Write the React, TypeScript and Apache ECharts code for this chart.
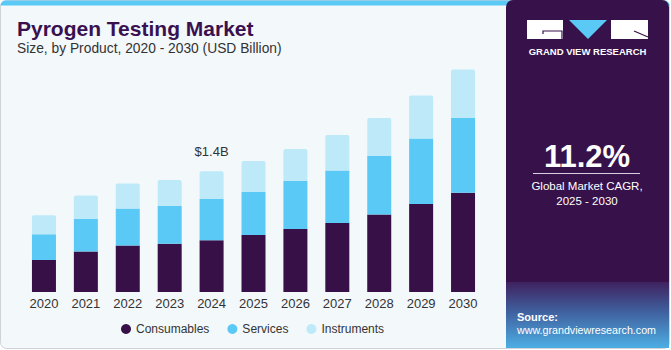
import React, { useEffect, useRef } from "react";
import * as echarts from "echarts";

const years = ["2020", "2021", "2022", "2023", "2024", "2025", "2026", "2027", "2028", "2029", "2030"];
const consumables = [0.37, 0.47, 0.54, 0.56, 0.6, 0.66, 0.73, 0.8, 0.9, 1.02, 1.15];
const services = [0.3, 0.38, 0.43, 0.44, 0.48, 0.5, 0.56, 0.61, 0.68, 0.76, 0.87];
const instruments = [0.22, 0.27, 0.29, 0.3, 0.32, 0.36, 0.37, 0.41, 0.44, 0.5, 0.56];
const seriesNames = ["Consumables", "Services", "Instruments"];
const colors = ["#381048", "#5bc9f5", "#bde9f9"];
const labelIndex = 4;
const labelText = "$1.4B";

export default function App() {
  const ref = useRef<HTMLDivElement>(null);
  useEffect(() => {
    if (!ref.current) return;
    const chart = echarts.init(ref.current, undefined, { renderer: "svg" });
    const font = "Arial, 'Liberation Sans', sans-serif";
    const data = [consumables, services, instruments];
    chart.setOption({
      animation: false,
      textStyle: { fontFamily: font },
      grid: { left: 23, right: 187, top: 33.4, bottom: 58, containLabel: false },
      xAxis: {
        type: "category",
        data: years,
        axisLine: { show: false },
        axisTick: { show: false },
        axisLabel: { color: "#333", fontSize: 13, margin: 5, fontFamily: font },
      },
      yAxis: { type: "value", min: 0, max: 3, show: false, splitLine: { show: false } },
      legend: {
        left: 116,
        top: 318,
        itemWidth: 10,
        itemHeight: 10,
        itemGap: 18,
        icon: "circle",
        textStyle: { color: "#333", fontSize: 12, fontFamily: font },
        data: seriesNames,
      },
      series: seriesNames.map((name, si) => ({
        name,
        type: "bar",
        stack: "total",
        barWidth: 24,
        itemStyle: {
          color: colors[si],
          borderRadius: si === 2 ? [2, 2, 0, 0] : 0,
        },
        label:
          si === 2
            ? {
                show: true,
                position: "top",
                distance: 13,
                color: "#333",
                fontSize: 13,
                fontFamily: font,
                formatter: (p: any) => (p.dataIndex === labelIndex ? labelText : ""),
              }
            : { show: false },
        data: data[si],
      })),
      graphic: [
        {
          type: "rect",
          z: -10,
          shape: { x: 0.5, y: 0.5, width: 669, height: 348, r: 6 },
          style: { fill: "#f3f8fb", stroke: "#cfd3d6", lineWidth: 1 },
        },
        {
          type: "rect",
          z: -9,
          shape: { x: 0.5, y: 0.5, width: 669, height: 5, r: [5, 5, 0, 0] },
          style: { fill: "#5bc9f5" },
        },
        {
          type: "rect",
          z: -8,
          shape: { x: 506, y: 0, width: 163, height: 348, r: [7, 7, 0, 0] },
          style: { fill: "#37124a" },
        },
        {
          type: "rect",
          z: -7,
          shape: { x: 506, y: 282, width: 163, height: 66 },
          style: {
            fill: new echarts.graphic.LinearGradient(0, 0, 0, 1, [
              { offset: 0, color: "#3f225f" },
              { offset: 0.45, color: "#40609e" },
              { offset: 1, color: "#4daee4" },
            ]),
          },
        },
        {
          type: "text",
          left: 17,
          top: 18,
          style: { text: "Pyrogen Testing Market", fill: "#3a1150", font: `bold 21px ${font}` },
        },
        {
          type: "text",
          left: 17,
          top: 41,
          style: { text: "Size, by Product, 2020 - 2030 (USD Billion)", fill: "#333", font: `13.8px ${font}` },
        },
        // logo
        { type: "rect", shape: { x: 527, y: 20, width: 36, height: 19 }, style: { fill: "#ffffff" } },
        {
          type: "polyline",
          shape: { points: [[543, 34], [543, 31], [562, 31], [562, 39]] },
          style: { stroke: "#37124a", lineWidth: 1.2, fill: null },
        },
        { type: "polygon", shape: { points: [[569, 20], [607, 20], [588, 39]] }, style: { fill: "#5bc9f5" } },
        { type: "rect", shape: { x: 611, y: 20, width: 37, height: 19 }, style: { fill: "#ffffff" } },
        {
          type: "line",
          shape: { x1: 634, y1: 31, x2: 648, y2: 37 },
          style: { stroke: "#37124a", lineWidth: 1.2 },
        },
        {
          type: "text",
          x: 587.5,
          y: 51,
          style: {
            text: "GRAND VIEW RESEARCH",
            fill: "#ffffff",
            font: `bold 9.5px ${font}`,
            align: "center",
            verticalAlign: "middle",
          },
        },
        {
          type: "text",
          x: 587,
          y: 156,
          style: { text: "11.2%", fill: "#ffffff", font: `bold 31px ${font}`, align: "center", verticalAlign: "middle" },
        },
        {
          type: "line",
          shape: { x1: 533, y1: 173.5, x2: 640, y2: 173.5 },
          style: { stroke: "#d8d0e0", lineWidth: 1 },
        },
        {
          type: "text",
          x: 587,
          y: 186,
          style: { text: "Global Market CAGR,", fill: "#ffffff", font: `11.5px ${font}`, align: "center", verticalAlign: "middle" },
        },
        {
          type: "text",
          x: 587,
          y: 201,
          style: { text: "2025 - 2030", fill: "#ffffff", font: `11.5px ${font}`, align: "center", verticalAlign: "middle" },
        },
        {
          type: "text",
          x: 517,
          y: 317,
          style: { text: "Source:", fill: "#ffffff", font: `bold 11px ${font}`, verticalAlign: "middle" },
        },
        {
          type: "text",
          x: 517,
          y: 330,
          style: { text: "www.grandviewresearch.com", fill: "#ffffff", font: `10.7px ${font}`, verticalAlign: "middle" },
        },
      ],
    });
    return () => chart.dispose();
  }, []);
  return (
    <div
      ref={ref}
      style={{ position: "absolute", left: 0, top: 0, width: 671, height: 350, background: "#ffffff" }}
    />
  );
}
